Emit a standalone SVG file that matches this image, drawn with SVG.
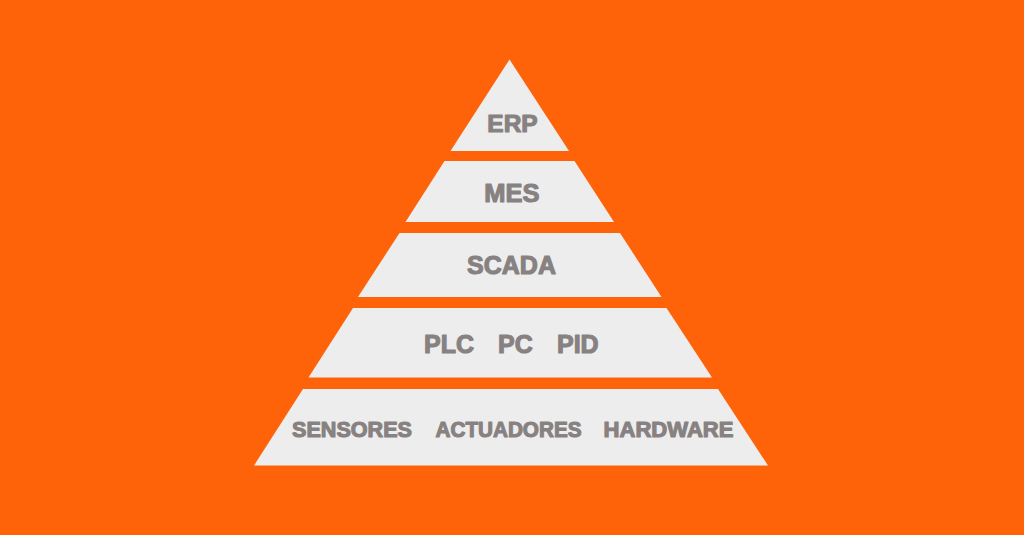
<svg xmlns="http://www.w3.org/2000/svg" width="1024" height="535" viewBox="0 0 1024 535">
  <style>
    .tier { fill: #ededed; }
    .label { font-family: "Liberation Sans", Arial, sans-serif; font-weight: bold; fill: #878181; stroke: #878181; stroke-width: 1.1; stroke-linejoin: round; }
  </style>
  <!-- background -->
  <rect x="0" y="0" width="1024" height="535" fill="#ff630a"/>

  <!-- pyramid tiers, top to bottom -->
  <g id="erp">
    <polygon class="tier" points="509.5,59.5 569,151 450.5,151"/>
    <text class="label" x="512.5" y="131.5" font-size="24.5" text-anchor="middle">ERP</text>
  </g>
  <g id="mes">
    <polygon class="tier" points="444.5,161 574.5,161 614,222 405.5,222"/>
    <text class="label" x="512" y="202" font-size="25.5" text-anchor="middle">MES</text>
  </g>
  <g id="scada">
    <polygon class="tier" points="399.5,233 620,233 661.5,297 358,297"/>
    <text class="label" x="511.5" y="274" font-size="25" text-anchor="middle">SCADA</text>
  </g>
  <g id="control">
    <polygon class="tier" points="353,308 666.5,308 712,377.5 308.5,377.5"/>
    <text class="label" y="353" font-size="25"><tspan x="424">PLC</tspan><tspan x="498">PC</tspan><tspan x="557">PID</tspan></text>
  </g>
  <g id="field">
    <polygon class="tier" points="303,389 718,389 768,465.5 254,465.5"/>
    <text class="label" y="436.5" font-size="21.5"><tspan x="292" textLength="120" lengthAdjust="spacingAndGlyphs">SENSORES</tspan><tspan x="435.5" textLength="146" lengthAdjust="spacingAndGlyphs">ACTUADORES</tspan><tspan x="603.5" textLength="130" lengthAdjust="spacingAndGlyphs">HARDWARE</tspan></text>
  </g>
</svg>
